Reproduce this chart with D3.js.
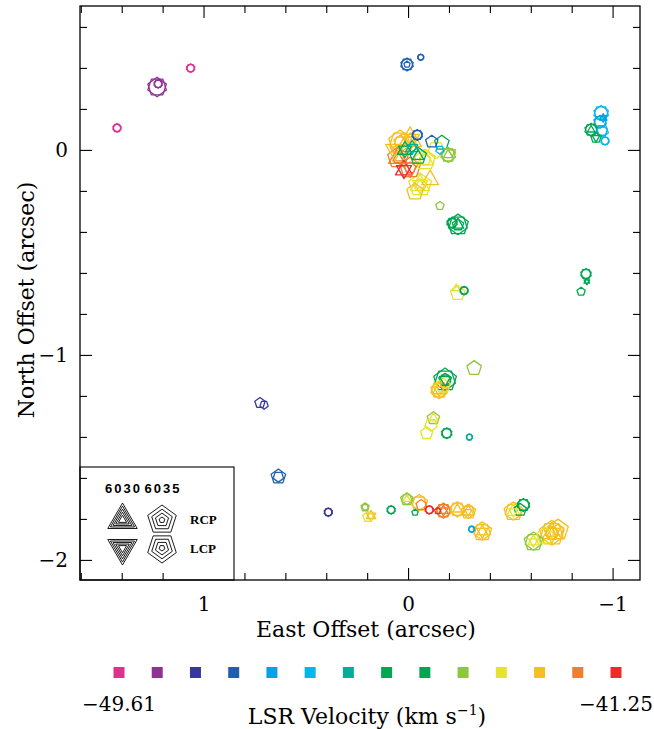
<!DOCTYPE html>
<html>
<head>
<meta charset="utf-8">
<script src="https://cdn.jsdelivr.net/npm/d3@7"></script>
<style>
body { margin: 0; background: #fff; }
</style>
</head>
<body>
<div id="my_dataviz"></div>
<script>
// velocity colour bins (km/s)
var velMin = -49.61, velMax = -41.25;
var velColors = ['#e0308f', '#8e3393', '#37399a', '#1e5fb0', '#04a4e4', '#00b8ef', '#00ae9a',
                 '#00a94f', '#00a651', '#8dc63f', '#e5e32b', '#f7be20', '#ef7f2f', '#ed2b2f'];

var xTicksMajor = [1, 0, -1];
var yTicksMajor = [0, -1, -2];

// spots: [east offset, north offset, vlsr, transition, polarization, flux]
var westSpots = [
  [1.423, 0.107, -49.31, 6035, 'R', 4.0], [1.423, 0.107, -49.31, 6035, 'L', 4.0],
  [1.063, 0.399, -49.31, 6035, 'R', 4.0], [1.063, 0.399, -49.31, 6035, 'L', 4.0],
  [1.227, 0.307, -48.71, 6035, 'R', 20.3], [1.227, 0.307, -48.71, 6035, 'L', 20.3],
  [1.222, 0.322, -48.71, 6035, 'R', 4.0], [1.222, 0.322, -48.71, 6035, 'L', 4.0],
  [0.724, -1.234, -48.12, 6035, 'R', 6.3], [0.704, -1.244, -48.12, 6035, 'L', 4.0],
  [0.634, -1.594, -47.52, 6035, 'R', 12.3], [0.634, -1.594, -47.52, 6035, 'L', 6.3],
  [0.390, -1.767, -48.12, 6035, 'R', 4.0], [0.390, -1.767, -48.12, 6035, 'L', 4.0]
];

var northSpots = [
  [0.005, 0.417, -47.52, 6035, 'R', 9.0], [0.005, 0.417, -47.52, 6035, 'L', 9.0],
  [0.005, 0.417, -47.52, 6035, 'R', 2.3],
  [-0.062, 0.452, -47.52, 6035, 'R', 2.3], [-0.062, 0.452, -47.52, 6035, 'L', 2.3]
];

var eastSpots = [
  [-0.944, 0.180, -46.33, 6035, 'R', 12.3], [-0.944, 0.180, -46.33, 6035, 'L', 12.3],
  [-0.939, 0.137, -46.92, 6035, 'R', 9.0], [-0.939, 0.137, -46.92, 6035, 'L', 9.0],
  [-0.949, 0.093, -46.33, 6035, 'R', 6.3], [-0.949, 0.093, -46.33, 6035, 'L', 9.0],
  [-0.963, 0.044, -46.33, 6035, 'R', 4.0], [-0.963, 0.044, -46.33, 6035, 'L', 4.0],
  [-0.895, 0.098, -44.54, 6035, 'R', 9.0], [-0.895, 0.098, -44.54, 6035, 'L', 9.0],
  [-0.895, 0.098, -44.54, 6030, 'R', 4.0],
  [-0.919, 0.059, -45.13, 6035, 'R', 6.3], [-0.919, 0.059, -45.13, 6030, 'L', 4.0],
  [-0.954, 0.156, -46.92, 6030, 'R', 4.0], [-0.954, 0.156, -46.92, 6030, 'L', 4.0],
  [-0.870, -0.605, -44.54, 6035, 'R', 6.3], [-0.870, -0.605, -44.54, 6035, 'L', 6.3],
  [-0.874, -0.642, -44.54, 6030, 'R', 2.3], [-0.874, -0.642, -44.54, 6030, 'L', 2.3],
  [-0.846, -0.691, -45.13, 6035, 'R', 4.0]
];

var centralSpots = [
  [-0.045, 0.073, -47.52, 6035, 'R', 6.3], [-0.045, 0.073, -47.52, 6035, 'L', 6.3],
  [-0.116, 0.040, -47.52, 6035, 'R', 9.0],
  [-0.165, 0.034, -44.54, 6035, 'R', 12.3],
  [-0.156, 0.000, -46.33, 6035, 'L', 4.0],
  [-0.196, -0.024, -43.94, 6035, 'R', 12.3], [-0.196, -0.024, -43.94, 6035, 'L', 12.3],
  [-0.196, -0.024, -43.94, 6030, 'R', 6.3], [-0.215, -0.010, -43.94, 6030, 'L', 4.0],
  [0.039, 0.039, -42.74, 6035, 'R', 30.3], [0.039, 0.039, -42.74, 6035, 'L', 25.0],
  [-0.010, 0.049, -42.74, 6030, 'R', 36.0], [-0.010, 0.049, -42.74, 6030, 'L', 25.0],
  [0.015, 0.000, -45.13, 6030, 'R', 16.0], [0.015, 0.000, -45.13, 6030, 'L', 12.3],
  [-0.020, 0.010, -45.73, 6030, 'R', 12.3], [-0.020, 0.010, -45.73, 6030, 'L', 9.0],
  [-0.049, -0.030, -45.13, 6030, 'R', 9.0], [-0.049, -0.030, -45.13, 6035, 'R', 16.0],
  [0.049, -0.039, -42.15, 6030, 'R', 25.0], [0.049, -0.039, -42.15, 6035, 'R', 25.0],
  [0.020, -0.098, -41.55, 6030, 'R', 20.3], [0.020, -0.098, -41.55, 6030, 'L', 16.0],
  [-0.010, -0.088, -42.15, 6035, 'R', 25.0], [-0.010, -0.088, -42.15, 6030, 'L', 20.3],
  [-0.083, -0.049, -43.34, 6035, 'R', 25.0], [-0.083, -0.049, -43.34, 6030, 'R', 20.3],
  [-0.059, -0.171, -43.34, 6035, 'R', 30.3], [-0.059, -0.171, -43.34, 6030, 'R', 25.0],
  [-0.059, -0.171, -43.34, 6030, 'L', 16.0],
  [-0.108, -0.146, -42.74, 6030, 'R', 20.3],
  [-0.137, 0.000, -43.34, 6035, 'L', 16.0],
  [0.064, 0.000, -42.74, 6030, 'L', 25.0],
  [-0.034, -0.205, -42.74, 6035, 'R', 16.0],
  [-0.156, -0.273, -43.94, 6035, 'R', 4.0]
];

var middleSpots = [
  [-0.244, -0.366, -44.54, 6035, 'R', 25.0], [-0.244, -0.366, -44.54, 6035, 'L', 20.3],
  [-0.244, -0.366, -44.54, 6030, 'R', 9.0],
  [-0.215, -0.356, -44.54, 6035, 'R', 6.3], [-0.215, -0.356, -44.54, 6035, 'L', 6.3],
  [-0.243, -0.699, -43.34, 6035, 'R', 12.3], [-0.235, -0.676, -43.34, 6030, 'R', 4.0],
  [-0.274, -0.686, -44.54, 6035, 'R', 4.0], [-0.274, -0.686, -44.54, 6035, 'L', 4.0],
  [-0.323, -1.065, -43.94, 6035, 'R', 12.3],
  [-0.181, -1.122, -44.54, 6035, 'R', 30.3], [-0.181, -1.122, -44.54, 6035, 'L', 25.0],
  [-0.181, -1.122, -44.54, 6030, 'L', 9.0],
  [-0.152, -1.171, -42.74, 6035, 'R', 16.0], [-0.152, -1.171, -42.74, 6035, 'L', 16.0],
  [-0.152, -1.171, -42.74, 6030, 'R', 12.3], [-0.152, -1.171, -42.74, 6030, 'L', 9.0],
  [-0.171, -1.151, -43.34, 6035, 'R', 12.3],
  [-0.124, -1.309, -43.94, 6035, 'R', 9.0], [-0.124, -1.309, -43.34, 6030, 'R', 6.3],
  [-0.112, -1.341, -43.34, 6035, 'L', 9.0],
  [-0.091, -1.382, -43.34, 6035, 'R', 9.0],
  [-0.189, -1.382, -44.54, 6035, 'R', 6.3], [-0.189, -1.382, -44.54, 6035, 'L', 6.3],
  [-0.300, -1.401, -45.73, 6035, 'R', 2.3], [-0.300, -1.401, -45.73, 6035, 'L', 2.3]
];

var southSpots = [
  [0.210, -1.743, -43.94, 6035, 'R', 4.0], [0.210, -1.743, -43.94, 6035, 'L', 2.3],
  [0.181, -1.785, -42.74, 6030, 'R', 6.3], [0.181, -1.785, -42.74, 6030, 'L', 6.3],
  [0.196, -1.790, -43.34, 6035, 'R', 6.3],
  [0.083, -1.756, -44.54, 6035, 'R', 4.0], [0.083, -1.756, -44.54, 6035, 'L', 4.0],
  [0.006, -1.704, -43.94, 6035, 'R', 9.0], [0.006, -1.704, -43.94, 6035, 'L', 6.3],
  [0.006, -1.704, -43.34, 6030, 'R', 4.0],
  [-0.034, -1.769, -44.54, 6035, 'R', 2.3],
  [-0.055, -1.723, -42.74, 6035, 'R', 16.0], [-0.055, -1.723, -42.74, 6035, 'L', 12.3],
  [-0.064, -1.732, -42.15, 6035, 'R', 6.3],
  [-0.104, -1.756, -41.55, 6035, 'R', 4.0], [-0.104, -1.756, -41.55, 6035, 'L', 4.0],
  [-0.145, -1.761, -41.55, 6035, 'R', 2.3],
  [-0.173, -1.760, -42.15, 6035, 'R', 12.3], [-0.173, -1.760, -42.15, 6035, 'L', 12.3],
  [-0.173, -1.760, -42.15, 6030, 'R', 6.3], [-0.173, -1.760, -42.15, 6030, 'L', 6.3],
  [-0.241, -1.753, -42.74, 6035, 'R', 12.3], [-0.241, -1.753, -42.74, 6035, 'L', 12.3],
  [-0.241, -1.753, -42.74, 6030, 'R', 6.3],
  [-0.295, -1.765, -42.74, 6035, 'R', 12.3], [-0.295, -1.765, -42.74, 6035, 'L', 9.0],
  [-0.295, -1.765, -42.74, 6030, 'R', 9.0], [-0.295, -1.765, -42.74, 6030, 'L', 4.0],
  [-0.311, -1.850, -46.92, 6035, 'R', 2.3], [-0.311, -1.850, -46.92, 6035, 'L', 2.3],
  [-0.363, -1.862, -42.74, 6035, 'R', 20.3], [-0.363, -1.862, -42.74, 6035, 'L', 16.0],
  [-0.363, -1.862, -42.74, 6030, 'R', 9.0], [-0.363, -1.862, -42.74, 6030, 'L', 9.0],
  [-0.515, -1.764, -42.74, 6035, 'R', 20.3], [-0.515, -1.764, -42.74, 6035, 'L', 16.0],
  [-0.515, -1.764, -43.34, 6030, 'R', 12.3], [-0.515, -1.764, -43.34, 6030, 'L', 6.3],
  [-0.548, -1.756, -44.54, 6035, 'R', 9.0],
  [-0.564, -1.732, -44.54, 6035, 'R', 9.0], [-0.564, -1.732, -44.54, 6035, 'L', 9.0],
  [-0.613, -1.911, -43.94, 6035, 'R', 20.3], [-0.613, -1.911, -43.94, 6035, 'L', 16.0],
  [-0.613, -1.911, -43.34, 6030, 'R', 9.0], [-0.613, -1.911, -43.34, 6030, 'L', 6.3],
  [-0.703, -1.870, -42.74, 6035, 'R', 36.0], [-0.703, -1.870, -42.74, 6035, 'L', 30.3],
  [-0.703, -1.870, -42.74, 6030, 'R', 25.0], [-0.703, -1.870, -42.74, 6030, 'L', 20.3],
  [-0.670, -1.883, -43.34, 6035, 'R', 16.0],
  [-0.733, -1.854, -42.74, 6035, 'R', 25.0]
];

var allSpots = [].concat(westSpots, northSpots, eastSpots, centralSpots, middleSpots, southSpots);

var width = 654, height = 729;

var svg = d3.select('#my_dataviz').append('svg')
    .attr('width', width)
    .attr('height', height);

var plot = {left: 80, right: 640, top: 6, bottom: 580};

//scales
var x = d3.scaleLinear().domain([1.604, -1.134]).range([plot.left, plot.right]);
var y = d3.scaleLinear().domain([0.702, -2.098]).range([plot.top, plot.bottom]);
var colour = d3.scaleQuantize().domain([velMin, velMax]).range(velColors);
var size = d3.scaleSqrt().domain([0, 36]).range([0, 13]);
//scales

var serif = 'DejaVu Serif';

function polyPoints(n, r, rot) {
    return d3.range(n).map(function(k) {
        var a = rot + k * 2 * Math.PI / n;
        return [r * Math.sin(a), -r * Math.cos(a)];
    });
}
var polyLine = d3.line().curve(d3.curveLinearClosed);

function shapePath(transition, pol, r) {
    var n = transition == 6030 ? 3 : 5;
    var rot = pol == 'R' ? 0 : Math.PI;
    return polyLine(polyPoints(n, r, rot));
}

// spots, largest drawn first
var spots = allSpots.slice().sort(function(a, b) { return b[5] - a[5]; });

svg.append('clipPath').attr('id', 'plotclip')
    .append('rect')
    .attr('x', plot.left).attr('y', plot.top)
    .attr('width', plot.right - plot.left).attr('height', plot.bottom - plot.top);

var spotGroup = svg.append('g').attr('class', 'spots').attr('clip-path', 'url(#plotclip)');

spots.forEach(function(d) {
    var r = size(d[5]);
    var rings = r >= 10 ? [r, r * 0.55] : [r];
    rings.forEach(function(rr) {
        spotGroup.append('path')
            .attr('d', shapePath(d[3], d[4], rr))
            .attr('transform', 'translate(' + x(d[0]) + ',' + y(d[1]) + ')')
            .attr('fill', 'none')
            .attr('stroke', colour(d[2]))
            .attr('stroke-width', 1.3)
            .attr('stroke-linejoin', 'round');
    });
});

// axes
function minorTicks(lo, hi) {
    return d3.range(Math.round(lo * 5), Math.round(hi * 5) + 1).map(function(k) { return k / 5; });
}
var xMinor = minorTicks(-1.0, 1.6).filter(function(v) { return xTicksMajor.indexOf(v) < 0; });
var yMinor = minorTicks(-2.0, 0.6).filter(function(v) { return yTicksMajor.indexOf(v) < 0; });
var fmt = function(v) { return v < 0 ? '\u2212' + Math.abs(v) : '' + v; };

function addAxis(axisFn, scale, tr, values, len, labels) {
    var g = svg.append('g')
        .attr('transform', tr)
        .call(axisFn(scale).tickValues(values).tickSizeInner(-len).tickSizeOuter(0)
            .tickPadding(labels ? 14 : 0)
            .tickFormat(labels ? fmt : ''));
    g.select('.domain').remove();
    g.selectAll('line').attr('stroke', '#000').attr('stroke-width', 1.1);
    g.selectAll('text').attr('font-family', serif).attr('font-size', 20).attr('fill', '#000');
    return g;
}

addAxis(d3.axisBottom, x, 'translate(0,' + plot.bottom + ')', xMinor, 7, false);
var xb = addAxis(d3.axisBottom, x, 'translate(0,' + plot.bottom + ')', xTicksMajor, 12, true);
xb.selectAll('text').attr('dy', '0.71em').attr('y', 17);
addAxis(d3.axisTop, x, 'translate(0,' + plot.top + ')', xMinor, 7, false);
addAxis(d3.axisTop, x, 'translate(0,' + plot.top + ')', xTicksMajor, 12, false);

addAxis(d3.axisLeft, y, 'translate(' + plot.left + ',0)', yMinor, 7, false);
var yl = addAxis(d3.axisLeft, y, 'translate(' + plot.left + ',0)', yTicksMajor, 12, true);
yl.selectAll('text').attr('x', -12);
addAxis(d3.axisRight, y, 'translate(' + plot.right + ',0)', yMinor, 7, false);
addAxis(d3.axisRight, y, 'translate(' + plot.right + ',0)', yTicksMajor, 12, false);

// legend box (drawn over the frame corner)
var legendBox = svg.append('g').attr('class', 'legend');
legendBox.append('rect')
    .attr('x', plot.left).attr('y', 467)
    .attr('width', 154).attr('height', plot.bottom - 467)
    .attr('fill', '#fff')
    .attr('stroke', '#000')
    .attr('stroke-width', 1.1);

// ticks under the legend stay visible
addAxis(d3.axisBottom, x, 'translate(0,' + plot.bottom + ')', xMinor.filter(function(v) { return v > 0.85; }), 7, false);
addAxis(d3.axisLeft, y, 'translate(' + plot.left + ',0)', yMinor.filter(function(v) { return v < -1.5; }), 7, false);
addAxis(d3.axisLeft, y, 'translate(' + plot.left + ',0)', [-2], 12, false);

svg.append('rect')
    .attr('x', plot.left).attr('y', plot.top)
    .attr('width', plot.right - plot.left).attr('height', plot.bottom - plot.top)
    .attr('fill', 'none')
    .attr('stroke', '#000')
    .attr('stroke-width', 1.3);

var legendRows = [['R', 520, 'RCP', 524], ['L', 548, 'LCP', 553]];
var legendCols = [[6030, 122.5], [6035, 162]];

legendCols.forEach(function(c) {
    legendBox.append('text')
        .text(c[0])
        .attr('x', c[1]).attr('y', 493)
        .attr('text-anchor', 'middle')
        .attr('font-family', 'Liberation Sans')
        .attr('font-weight', 'bold')
        .attr('font-size', 13)
        .attr('textLength', 35)
        .attr('fill', '#000');
});

legendRows.forEach(function(row) {
    legendCols.forEach(function(c) {
        var R = c[0] == 6030 ? 17 : 15;
        var fr = c[0] == 6030 ? [1, 0.82, 0.64, 0.46, 0.28] : [1, 0.72, 0.46, 0.2];
        fr.forEach(function(f) {
            legendBox.append('path')
                .attr('d', shapePath(c[0], row[0], R * f))
                .attr('transform', 'translate(' + c[1] + ',' + row[1] + ')')
                .attr('fill', 'none')
                .attr('stroke', '#000')
                .attr('stroke-width', 0.9);
        });
    });
    legendBox.append('text')
        .text(row[2])
        .attr('x', 190).attr('y', row[3])
        .attr('font-family', 'Liberation Serif')
        .attr('font-weight', 'bold')
        .attr('font-size', 13)
        .attr('fill', '#000');
});

// axis titles
svg.append('text')
    .text('East Offset (arcsec)')
    .attr('x', 366).attr('y', 637)
    .attr('text-anchor', 'middle')
    .attr('font-family', serif)
    .attr('font-size', 22)
    .attr('fill', '#000');

svg.append('text')
    .text('North Offset (arcsec)')
    .attr('transform', 'translate(34,300) rotate(-90)')
    .attr('text-anchor', 'middle')
    .attr('font-family', serif)
    .attr('font-size', 22)
    .attr('fill', '#000');

// colour key
var keyX = d3.scalePoint().domain(d3.range(velColors.length)).range([119, 616]);
svg.append('g').attr('class', 'colour_key')
    .selectAll('rect')
    .data(velColors)
    .enter().append('rect')
    .attr('x', function(d, i) { return keyX(i) - 5.5; })
    .attr('y', 667)
    .attr('width', 11)
    .attr('height', 11)
    .attr('fill', function(d) { return d; });

[[velMin, 0], [velMax, velColors.length - 1]].forEach(function(v) {
    svg.append('text')
        .text('\u2212' + Math.abs(v[0]).toFixed(2))
        .attr('x', keyX(v[1])).attr('y', 711)
        .attr('text-anchor', 'middle')
        .attr('font-family', serif)
        .attr('font-size', 20)
        .attr('fill', '#000');
});

var lsr = svg.append('text')
    .attr('x', 367).attr('y', 724)
    .attr('text-anchor', 'middle')
    .attr('font-family', serif)
    .attr('font-size', 22)
    .attr('fill', '#000');
lsr.append('tspan').text('LSR Velocity (km s');
lsr.append('tspan').text('\u22121').attr('font-size', 14).attr('dy', -9);
lsr.append('tspan').text(')').attr('dy', 9);
</script>
</body>
</html>
